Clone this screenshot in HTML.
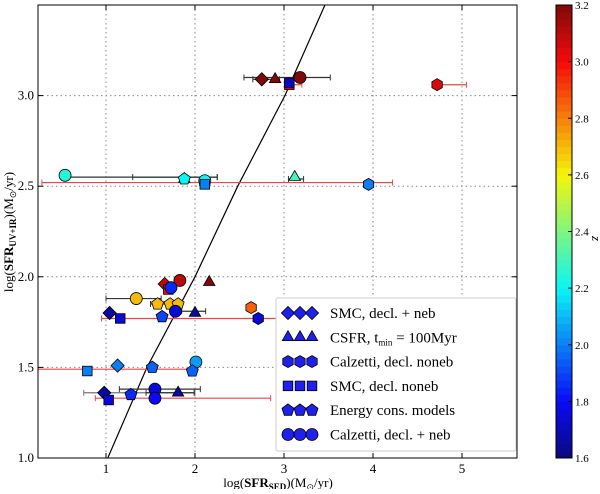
<!DOCTYPE html>
<html><head><meta charset="utf-8"><style>
body{margin:0;background:#fff;width:600px;height:489px;overflow:hidden}
svg{font-family:"Liberation Serif",serif}
</style></head><body>
<svg id="c" width="600" height="489"><clipPath id="cp"><rect x="38" y="5" width="479" height="453"/></clipPath></svg>
<script>
const xTicks=[1,2,3,4,5];
const yTicks=[1.0,1.5,2.0,2.5,3.0];
const cbTicks=[1.6,1.8,2.0,2.2,2.4,2.6,2.8,3.0,3.2];
// points: marker type, x, y, z
const ptType=["d","^","s","o","H","s","o","^","H","o","p","s","^","H","o","d","s","o","^","o","p","p","p","H","d","s","p","^","o","H","d","p","o","p","s","d","s","p","o","o","^"];
const ptX=[2.75,2.9,3.06,3.18,4.72,3.06,0.54,1.88,2.11,2.11,1.88,2.11,3.12,3.95,1.83,1.66,1.70,1.73,2.16,1.34,1.58,1.72,1.81,2.63,1.04,1.16,1.63,2.0,1.78,2.71,1.13,1.52,2.01,1.97,0.79,0.98,1.03,1.28,1.55,1.55,1.81];
const ptY=[3.09,3.09,3.06,3.10,3.06,3.07,2.56,2.54,2.52,2.53,2.54,2.51,2.55,2.51,1.98,1.96,1.93,1.94,1.97,1.88,1.85,1.85,1.85,1.83,1.80,1.77,1.78,1.80,1.81,1.77,1.51,1.50,1.53,1.48,1.48,1.36,1.32,1.35,1.38,1.33,1.36];
const ptZ=[3.25,3.25,3.0,3.25,3.05,1.7,2.25,2.25,2.1,2.2,2.2,2.0,2.3,2.0,3.1,3.1,3.0,1.85,3.25,2.7,2.7,2.7,2.7,2.85,1.65,1.75,1.9,1.65,1.75,1.75,2.0,1.95,2.05,1.95,2.0,1.65,1.75,1.85,1.75,1.8,1.65];
// error bars: y, xmin, xmax, color
const ebY=[3.10,3.09,3.06,3.06,2.55,2.55,2.52,2.54,1.88,1.85,1.85,1.81,1.77,1.36,1.38,1.36,1.33,1.49];
const ebX0=[2.55,2.65,3.05,4.72,0.54,1.3,0.28,3.05,1.0,1.5,1.62,1.85,0.95,0.75,1.15,1.45,0.88,0.15];
const ebX1=[3.52,2.95,3.2,5.05,2.25,2.25,4.22,3.22,1.62,1.85,1.85,2.12,3.09,2.0,2.06,1.99,2.85,1.98];
const ebC=["#333","#333","#e44","#e44","#333","#333","#e44","#333","#333","#333","#e44","#333","#e44","#777","#333","#333","#e44","#e44"];
const lineX=[1.02,1.46,2.0,2.48,3.01,3.46];
const lineY=[1.0,1.5,2.0,2.5,3.0,3.5];

const L=38,R=517,T=5,B=458;
const X=v=>106+(v-1)*89, Y=v=>458-(v-1)*181.2;
const ns="http://www.w3.org/2000/svg", svg=document.getElementById('c');
function mk(t,a,p){const e=document.createElementNS(ns,t);for(const k in a)e.setAttribute(k,a[k]);(p||svg).appendChild(e);return e;}
function jet(z){let t=(z-1.6)/1.6;t=Math.max(0,Math.min(1,t));
 const f=v=>Math.round(235*Math.max(0,Math.min(1,v))+10);
 return `rgb(${f(Math.min(4*t-1.5,-4*t+4.5))},${f(Math.min(4*t-0.5,-4*t+3.5))},${f(Math.min(4*t+0.5,-4*t+2.5))})`;}
function marker(g,type,cx,cy,r,fill){
 const s={fill:fill,stroke:"#000","stroke-width":0.8};let e;
 const poly=(n,rot,rr)=>{let p=[];for(let i=0;i<n;i++){const a=rot+i*2*Math.PI/n;p.push((cx+rr*Math.cos(a)).toFixed(1)+","+(cy+rr*Math.sin(a)).toFixed(1));}return p.join(" ");};
 if(type=="o")e=mk("circle",{cx,cy,r,...s},g);
 else if(type=="s")e=mk("rect",{x:cx-r*0.8,y:cy-r*0.8,width:r*1.6,height:r*1.6,...s},g);
 else if(type=="d")e=mk("polygon",{points:poly(4,0,r*1.1),...s},g);
 else if(type=="^")e=mk("polygon",{points:poly(3,-Math.PI/2,r*1.1),...s},g);
 else if(type=="H")e=mk("polygon",{points:poly(6,-Math.PI/2,r),...s},g);
 else e=mk("polygon",{points:poly(5,-Math.PI/2,r*1.05),...s},g);
 return e;}

const grid=mk("g",{});
xTicks.forEach(v=>mk("line",{x1:X(v),x2:X(v),y1:T,y2:B,stroke:"#888","stroke-dasharray":"1.5,3","stroke-width":1},grid));
yTicks.forEach(v=>mk("line",{x1:L,x2:R,y1:Y(v),y2:Y(v),stroke:"#888","stroke-dasharray":"1.5,3","stroke-width":1},grid));
const ln=mk("polyline",{points:lineX.map((v,i)=>X(v)+","+Y(lineY[i])).join(" "),fill:"none",stroke:"#000","stroke-width":1.2,"clip-path":"url(#cp)"});

const eg=mk("g",{"clip-path":"url(#cp)"});
ebY.forEach((y,i)=>{const yy=Y(y),c=ebC[i];
 mk("line",{x1:X(ebX0[i]),x2:X(ebX1[i]),y1:yy,y2:yy,stroke:c,"stroke-width":1.2},eg);
 [ebX0[i],ebX1[i]].forEach(x=>mk("line",{x1:X(x),x2:X(x),y1:yy-3,y2:yy+3,stroke:c,"stroke-width":1},eg));});
const pg=mk("g",{});
ptX.forEach((x,i)=>{const e=marker(pg,ptType[i],X(x),Y(ptY[i]),6,jet(ptZ[i]));
 
 });
const fr=mk("rect",{x:L,y:T,width:R-L,height:B-T,fill:"none",stroke:"#000","stroke-width":1});

xTicks.forEach(v=>{mk("line",{x1:X(v),x2:X(v),y1:B,y2:B-5,stroke:"#000"});mk("line",{x1:X(v),x2:X(v),y1:T,y2:T+5,stroke:"#000"});
 const t=mk("text",{x:X(v),y:473,"text-anchor":"middle","font-size":13});t.textContent=v;
 });
yTicks.forEach(v=>{mk("line",{x1:L,x2:L+5,y1:Y(v),y2:Y(v),stroke:"#000"});mk("line",{x1:R,x2:R-5,y1:Y(v),y2:Y(v),stroke:"#000"});
 const t=mk("text",{x:34,y:Y(v)+4,"text-anchor":"end","font-size":13});t.textContent=v.toFixed(1);
 });
const xt=mk("text",{x:278,y:487,"text-anchor":"middle","font-size":13});
xt.innerHTML='log(<tspan font-weight="bold">SFR</tspan><tspan font-weight="bold" font-size="9" dy="3">SED</tspan><tspan dy="-3">)(M</tspan><tspan font-size="9" dy="3">⊙</tspan><tspan dy="-3">/yr)</tspan>';

const yt=mk("text",{x:0,y:0,"text-anchor":"middle","font-size":13,transform:"translate(13,232) rotate(-90)"});
yt.innerHTML='log(<tspan font-weight="bold">SFR</tspan><tspan font-weight="bold" font-size="9" dy="3">UV+IR</tspan><tspan dy="-3">)(M</tspan><tspan font-size="9" dy="3">⊙</tspan><tspan dy="-3">/yr)</tspan>';

const lg=mk("g",{});
mk("rect",{x:276,y:298,width:240,height:153,fill:"#fff",stroke:"#ccc",rx:2},lg);
const legT=["d","^","H","s","p","o"];
const legL=["SMC, decl. + neb","CSFR, t<tspan font-size='9' dy='3'>min</tspan><tspan dy='-3'> = 100Myr</tspan>","Calzetti, decl. noneb","SMC, decl. noneb","Energy cons. models","Calzetti, decl. + neb"];
legT.forEach((m,i)=>{const y=313+i*24.3;
 [288,300,312].forEach(x=>marker(lg,m,x,y,6,"#2020ee"));
 const t=mk("text",{x:330,y:y+5,"font-size":15},lg);t.innerHTML=legL[i];
 });
const cb=mk("g",{});
const cbT=5,cbB=458,cbX=556,cbW=16;
for(let i=0;i<64;i++){const z0=1.6+i*1.6/64;mk("rect",{x:cbX,y:cbB-(i+1)*(cbB-cbT)/64,width:cbW,height:(cbB-cbT)/64+0.5,fill:jet(z0+0.0125)},cb);}
mk("rect",{x:cbX,y:cbT,width:cbW,height:cbB-cbT,fill:"none",stroke:"#000"},cb);
cbTicks.forEach(v=>{const y=cbB-(v-1.6)/1.6*(cbB-cbT);
 mk("line",{x1:cbX+cbW-4,x2:cbX+cbW,y1:y,y2:y,stroke:"#000"},cb);
 const t=mk("text",{x:575,y:y+4,"font-size":11},cb);t.textContent=v.toFixed(1);
 });
const zt=mk("text",{x:0,y:0,"font-size":13,"font-style":"italic",transform:"translate(592,236) rotate(90)"});zt.textContent="z";

</script>
</body></html>
